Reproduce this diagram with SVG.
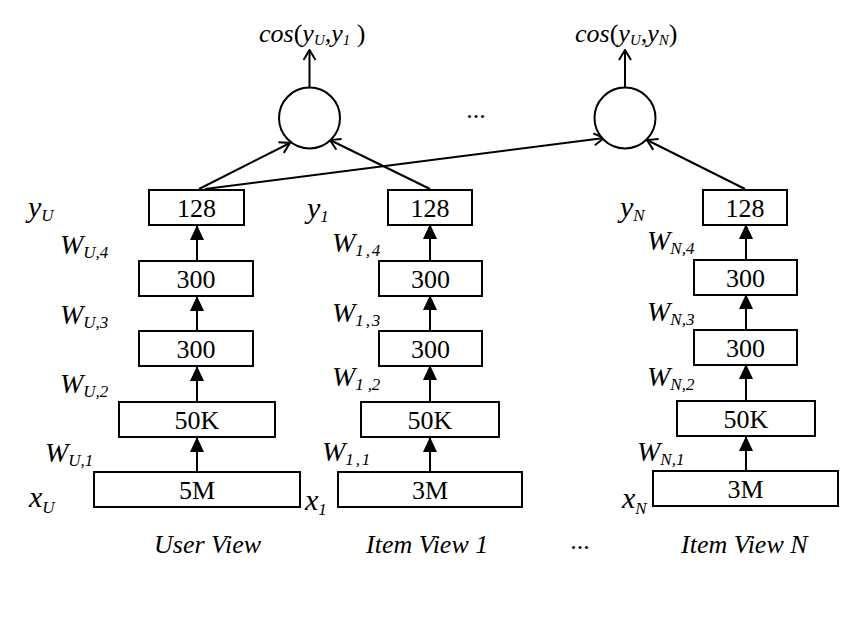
<svg xmlns="http://www.w3.org/2000/svg" width="866" height="628" viewBox="0 0 866 628">
<defs>
<style>
.box{fill:#fff;stroke:#000;stroke-width:2}
.num{font-size:26px;text-anchor:middle;fill:#000}
.lab{font-style:italic;fill:#000}
.w{font-size:28px}
.v{font-size:30px}
.sub{font-size:17px}
.csub{font-size:15px}
.cap{font-size:26px}
.cos{font-size:26px}
.up{font-style:normal}
.ln{stroke:#000;stroke-width:2;fill:none}
.circ{fill:#fff;stroke:#000;stroke-width:2}
</style>
<marker id="fa" viewBox="0 0 15 14" refX="15" refY="7" markerWidth="15" markerHeight="14" markerUnits="userSpaceOnUse" orient="auto">
<path d="M0,0 L15,7 L0,14 z" fill="#000"/>
</marker>
<marker id="oa" viewBox="0 0 12 14" refX="11" refY="7" markerWidth="12" markerHeight="14" markerUnits="userSpaceOnUse" orient="auto">
<path d="M1,1 L11,7 L1,13" fill="none" stroke="#000" stroke-width="2"/>
</marker>
</defs>
<rect width="866" height="628" fill="#fff"/>

<g id="connectors">
<line class="ln" x1="197" y1="472" x2="197" y2="437" marker-end="url(#fa)"/>
<line class="ln" x1="197" y1="402" x2="197" y2="366" marker-end="url(#fa)"/>
<line class="ln" x1="197" y1="331" x2="197" y2="296" marker-end="url(#fa)"/>
<line class="ln" x1="197" y1="261" x2="197" y2="225" marker-end="url(#fa)"/>
<line class="ln" x1="430" y1="472" x2="430" y2="437" marker-end="url(#fa)"/>
<line class="ln" x1="430" y1="401" x2="430" y2="365" marker-end="url(#fa)"/>
<line class="ln" x1="430" y1="331" x2="430" y2="295" marker-end="url(#fa)"/>
<line class="ln" x1="430" y1="260" x2="430" y2="224" marker-end="url(#fa)"/>
<line class="ln" x1="746" y1="471" x2="746" y2="436" marker-end="url(#fa)"/>
<line class="ln" x1="746" y1="400" x2="746" y2="364" marker-end="url(#fa)"/>
<line class="ln" x1="746" y1="330" x2="746" y2="294" marker-end="url(#fa)"/>
<line class="ln" x1="746" y1="259" x2="746" y2="224" marker-end="url(#fa)"/>
<line class="ln" x1="199" y1="189" x2="290" y2="143" marker-end="url(#oa)"/>
<line class="ln" x1="430" y1="189" x2="330" y2="140" marker-end="url(#oa)"/>
<line class="ln" x1="205" y1="189" x2="604" y2="138" marker-end="url(#oa)"/>
<line class="ln" x1="745" y1="189" x2="647" y2="140" marker-end="url(#oa)"/>
<line class="ln" x1="309.5" y1="87" x2="309.5" y2="50" marker-end="url(#oa)"/>
<line class="ln" x1="625" y1="87" x2="625" y2="50" marker-end="url(#oa)"/>
</g>

<g font-family="'Liberation Serif', 'Times New Roman', serif">
<g id="cos1">
<circle class="circ" cx="309.5" cy="118" r="30.5"/>
<text class="lab cos" x="259" y="42">cos<tspan class="up">(</tspan>y<tspan class="csub" dy="3">U</tspan><tspan dy="-3">,y</tspan><tspan class="csub" dy="3">1</tspan><tspan class="up" dy="-3"> )</tspan></text>
</g>
<g id="cosN">
<circle class="circ" cx="625" cy="118" r="30.5"/>
<text class="lab cos" x="575" y="42">cos<tspan class="up">(</tspan>y<tspan class="csub" dy="3">U</tspan><tspan dy="-3">,y</tspan><tspan class="csub" dy="3">N</tspan><tspan class="up" dy="-3">)</tspan></text>
</g>
<g id="dots">
<text class="num" x="476" y="118">...</text>
<text class="num" x="580" y="549">...</text>
</g>

<g id="user-view">
<rect class="box" x="149" y="190" width="95" height="35"/><text class="num" x="196.5" y="217">128</text>
<rect class="box" x="139" y="261" width="114" height="35"/><text class="num" x="196" y="288">300</text>
<rect class="box" x="139" y="331" width="114" height="35"/><text class="num" x="196" y="358">300</text>
<rect class="box" x="119" y="402" width="156" height="35"/><text class="num" x="197" y="429">50K</text>
<rect class="box" x="94" y="472" width="206" height="35"/><text class="num" x="197" y="499">5M</text>
<text class="lab v" x="28" y="217">y<tspan class="sub" dy="4">U</tspan></text>
<text class="lab w" x="60" y="254">W<tspan class="sub" dy="4">U,4</tspan></text>
<text class="lab w" x="60" y="324">W<tspan class="sub" dy="4">U,3</tspan></text>
<text class="lab w" x="60" y="393">W<tspan class="sub" dy="4">U,2</tspan></text>
<text class="lab w" x="45" y="462">W<tspan class="sub" dy="4">U,1</tspan></text>
<text class="lab v" x="29" y="507">x<tspan class="sub" dy="6">U</tspan></text>
<text class="lab cap" x="154" y="553">User View</text>
</g>

<g id="item-view-1">
<rect class="box" x="388" y="190" width="84" height="35"/><text class="num" x="430" y="217">128</text>
<rect class="box" x="379" y="261" width="103" height="35"/><text class="num" x="430.5" y="288">300</text>
<rect class="box" x="379" y="331" width="103" height="35"/><text class="num" x="430.5" y="358">300</text>
<rect class="box" x="361" y="402" width="138" height="35"/><text class="num" x="430" y="429">50K</text>
<rect class="box" x="338" y="472" width="184" height="35"/><text class="num" x="430" y="499">3M</text>
<text class="lab v" x="307" y="218">y<tspan class="sub" dy="4">1</tspan></text>
<text class="lab w" x="332" y="252">W<tspan class="sub" dy="4" textLength="25">1,4</tspan></text>
<text class="lab w" x="332" y="322">W<tspan class="sub" dy="4" textLength="25">1,3</tspan></text>
<text class="lab w" x="332" y="386">W<tspan class="sub" dy="4" textLength="25">1 ,2</tspan></text>
<text class="lab w" x="322" y="461">W<tspan class="sub" dy="4" textLength="25">1,1</tspan></text>
<text class="lab v" x="305" y="510">x<tspan class="sub" dy="5">1</tspan></text>
<text class="lab cap" x="366" y="553">Item View 1</text>
</g>

<g id="item-view-n">
<rect class="box" x="703" y="190" width="84" height="35"/><text class="num" x="745" y="217">128</text>
<rect class="box" x="694" y="260" width="103" height="35"/><text class="num" x="745.5" y="287">300</text>
<rect class="box" x="694" y="330" width="103" height="35"/><text class="num" x="745.5" y="357">300</text>
<rect class="box" x="677" y="401" width="138" height="35"/><text class="num" x="746" y="428">50K</text>
<rect class="box" x="653" y="471" width="185" height="35"/><text class="num" x="745.5" y="498">3M</text>
<text class="lab v" x="620" y="217">y<tspan class="sub" dy="4">N</tspan></text>
<text class="lab w" x="647" y="250">W<tspan class="sub" dy="4">N,4</tspan></text>
<text class="lab w" x="647" y="321">W<tspan class="sub" dy="4">N,3</tspan></text>
<text class="lab w" x="647" y="386">W<tspan class="sub" dy="4">N,2</tspan></text>
<text class="lab w" x="637" y="461">W<tspan class="sub" dy="4">N,1</tspan></text>
<text class="lab v" x="622" y="508">x<tspan class="sub" dy="6">N</tspan></text>
<text class="lab cap" x="681" y="553">Item View N</text>
</g>
</g>
</svg>
